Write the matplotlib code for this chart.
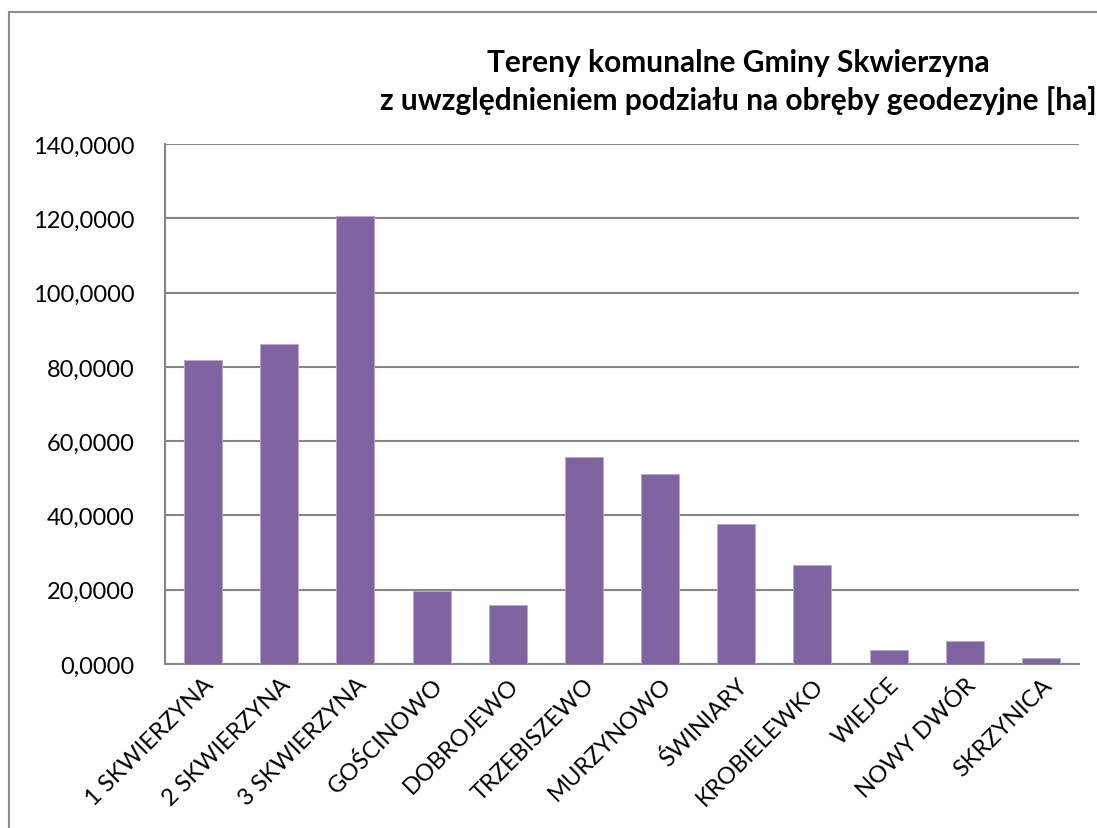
import matplotlib
matplotlib.use("Agg")
import matplotlib.pyplot as plt
from matplotlib.patches import Rectangle
from matplotlib.ticker import FuncFormatter, MultipleLocator

categories = ["1 SKWIERZYNA", "2 SKWIERZYNA", "3 SKWIERZYNA", "GOŚCINOWO", "DOBROJEWO",
              "TRZEBISZEWO", "MURZYNOWO", "ŚWINIARY", "KROBIELEWKO", "WIEJCE",
              "NOWY DWÓR", "SKRZYNICA"]
values = [81.9, 86.2, 120.6, 19.7, 15.9, 55.7, 51.2, 37.7, 26.7, 3.8, 6.2, 1.6]
title = "Tereny komunalne Gminy Skwierzyna\nz uwzględnieniem podziału na obręby geodezyjne [ha]"

plt.rcParams['font.family'] = ['Lato', 'DejaVu Sans']

fig = plt.figure(figsize=(10.97, 8.29), dpi=100)
W, H = 1097, 829
ax = fig.add_axes([165 / W, 1 - 665 / H, (1079 - 165) / W, (665 - 145) / H])

# outer chart border
fig.patches.append(Rectangle((9 / W, -0.1), 1.2, 1 - 13 / H + 0.1, transform=fig.transFigure,
                             fill=False, edgecolor="#8c8c8c", linewidth=1.5))

x = list(range(len(categories)))
ax.bar(x, values, width=0.5, color="#8064A2", edgecolor="#b9a9cc", linewidth=0.6, zorder=3)

ax.set_xlim(-0.5, len(categories) - 0.5)
ax.set_ylim(0, 140)
ax.yaxis.set_major_locator(MultipleLocator(20))
ax.yaxis.set_major_formatter(FuncFormatter(lambda v, p: f"{v:.4f}".replace(".", ",")))
ax.grid(axis="y", color="#868686", linewidth=1.5, zorder=0)
for s in ["top", "right"]:
    ax.spines[s].set_visible(False)
for s in ["left", "bottom"]:
    ax.spines[s].set_color("#868686")
    ax.spines[s].set_linewidth(1.5)
ax.tick_params(axis="both", length=0, labelsize=17, colors="black")
ax.tick_params(axis="y", pad=22)
ax.set_xticks(x)
ax.set_xticklabels(categories, rotation=45, ha="right", va="top", rotation_mode="anchor", fontsize=17)
ax.tick_params(axis="x", pad=7)

fig.text(738 / W, 1 - 82 / H, title, ha="center", va="center", fontsize=21.5,
         fontweight="bold", linespacing=1.4)

fig.savefig("out.png", dpi=100, facecolor="white")
